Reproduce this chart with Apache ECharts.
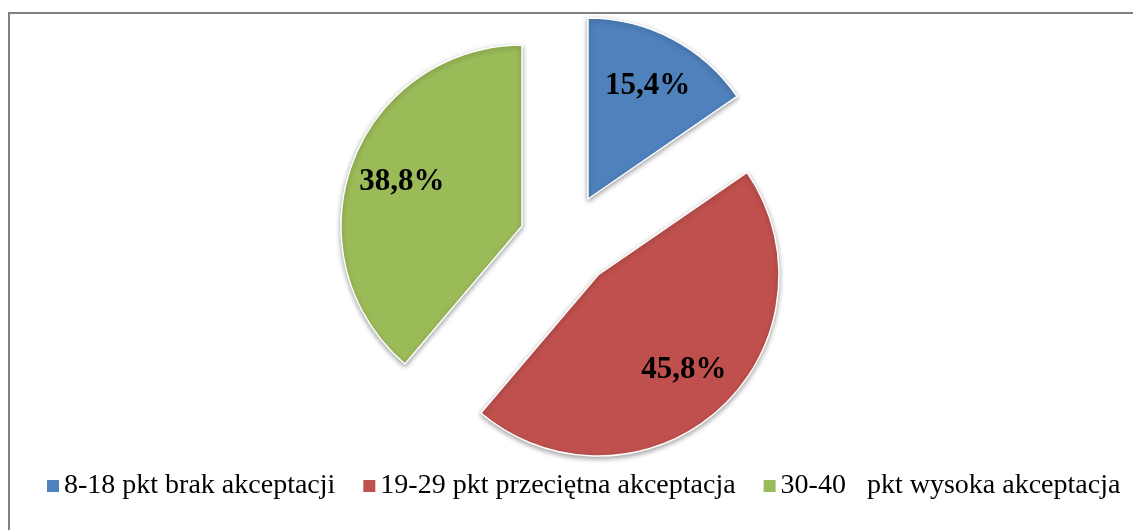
<!DOCTYPE html>
<html>
<head>
<meta charset="utf-8">
<script src="https://cdn.jsdelivr.net/npm/echarts@6/dist/echarts.min.js"></script>
<style>
    html, body {margin: 0; padding: 0; background: #fff;}
    #chart {width: 1133px; height: 530px;}
</style>
</head>
<body>
<div id="chart"></div>
<script>
var categories = ['8-18 pkt brak akceptacji', '19-29 pkt przeciętna akceptacja', '30-40   pkt wysoka akceptacja'];
var values = [15.4, 45.8, 38.8];
var valueLabels = ['15,4%', '45,8%', '38,8%'];
var colors = ['#4F81BD', '#C0504D', '#9BBB59'];

// every slice is pulled out by its own amount, so each one gets its own pie
var sliceCenters = [[588, 199], [598, 275], [522, 226]];
var R = 181;
var serif = 'Liberation Serif';
var hidden = {color: 'rgba(0,0,0,0)', borderWidth: 0, shadowBlur: 0};

var series = [];
categories.forEach(function (cat, k) {
    series.push({
        type: 'pie',
        center: sliceCenters[k],
        radius: [0, R],
        startAngle: 90,
        clockwise: true,
        silent: true,
        avoidLabelOverlap: false,
        label: {show: false},
        labelLine: {show: false},
        emphasis: {disabled: true},
        data: categories.map(function (name, i) {
            return {
                name: name,
                value: values[i],
                itemStyle: i === k ? {
                    color: colors[i],
                    borderColor: '#fff',
                    borderWidth: 1.5,
                    shadowBlur: 5,
                    shadowOffsetY: 2,
                    shadowColor: 'rgba(0,0,0,0.35)'
                } : hidden
            };
        })
    });
    // label ring, so the text sits further out than the half radius
    series.push({
        type: 'pie',
        center: sliceCenters[k],
        radius: [69, R],
        startAngle: 90,
        clockwise: true,
        silent: true,
        avoidLabelOverlap: false,
        labelLine: {show: false},
        emphasis: {disabled: true},
        data: categories.map(function (name, i) {
            return {
                name: name,
                value: values[i],
                itemStyle: hidden,
                label: i === k ? {
                    show: true,
                    position: 'inside',
                    formatter: valueLabels[i],
                    color: '#000',
                    fontFamily: serif,
                    fontWeight: 'bold',
                    fontSize: 31
                } : {show: false}
            };
        })
    });
});

var myChart = echarts.init(document.getElementById('chart'));
var option = {
    animation: false,
    backgroundColor: '#fff',
    graphic: [{
        type: 'rect',
        shape: {x: 9, y: 13, width: 1140, height: 530},
        style: {fill: 'none', stroke: '#808080', lineWidth: 2},
        silent: true
    }],
    legend: {
        left: 47,
        top: 472,
        width: 1086,
        padding: 0,
        icon: 'rect',
        itemWidth: 12,
        itemHeight: 12,
        itemGap: 28,
        selectedMode: false,
        textStyle: {fontFamily: serif, fontSize: 28, color: '#000'},
        data: categories.map(function (name, i) {
            return {name: name, itemStyle: {color: colors[i], opacity: 1, borderWidth: 0}};
        })
    },
    series: series
};
myChart.setOption(option);
</script>
</body>
</html>
